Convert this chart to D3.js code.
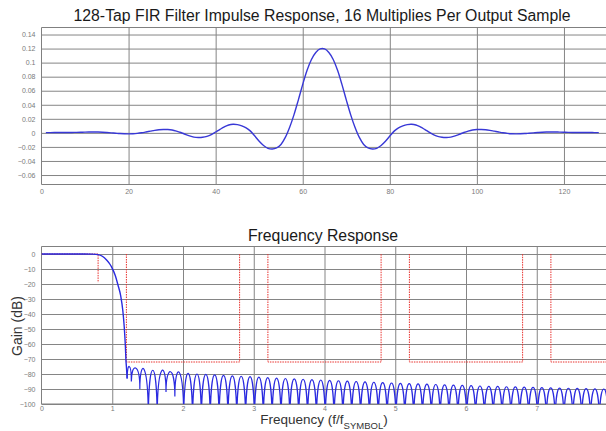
<!DOCTYPE html>
<html>
<head>
<meta charset="utf-8">
<script src="https://cdn.jsdelivr.net/npm/d3@7"></script>
<style>
  body { margin: 0; background: #fff; }
  svg { display: block; font-family: "Liberation Sans", Arial, sans-serif; }
  .grid line { stroke: #858585; stroke-width: 1; }
  .grid path { display: none; }
  .tick-lbl text { fill: #7a7a7a; font-size: 7px; }
  .tick-lbl path, .tick-lbl line { display: none; }
</style>
</head>
<body>
<div id="chart"></div>
<script>
// impulse response, tap 1..128
var impulseTaps = [
  0.0004, 0.0004, 0.0005, 0.0005, 0.0005, 0.0005, 0.0006, 0.0007, 0.0009, 0.0011,
  0.0012, 0.0013, 0.0012, 0.0009, 0.0005, 0.0000, -0.0005, -0.0010, -0.0013, -0.0014,
  -0.0012, -0.0007, 0.0001, 0.0012, 0.0024, 0.0036, 0.0045, 0.0048, 0.0047, 0.0040,
  0.0025, 0.0005, -0.0020, -0.0043, -0.0060, -0.0066, -0.0063, -0.0050, -0.0025, 0.0012,
  0.0050, 0.0085, 0.0112, 0.0122, 0.0117, 0.0100, 0.0072, 0.0025, -0.0045, -0.0120,
  -0.0180, -0.0220, -0.0230, -0.0215, -0.0165, -0.0065, 0.0080, 0.0260, 0.0470, 0.0690,
  0.0890, 0.1045, 0.1145, 0.1195,
  0.1195, 0.1145, 0.1045, 0.0890, 0.0690, 0.0470, 0.0260, 0.0080, -0.0065, -0.0165,
  -0.0215, -0.0230, -0.0220, -0.0180, -0.0120, -0.0045, 0.0025, 0.0072, 0.0100, 0.0117,
  0.0122, 0.0112, 0.0085, 0.0050, 0.0012, -0.0025, -0.0050, -0.0063, -0.0066, -0.0060,
  -0.0043, -0.0020, 0.0005, 0.0025, 0.0040, 0.0047, 0.0048, 0.0045, 0.0036, 0.0024,
  0.0012, 0.0001, -0.0007, -0.0012, -0.0014, -0.0013, -0.0010, -0.0005, 0.0000, 0.0005,
  0.0009, 0.0012, 0.0013, 0.0012, 0.0011, 0.0009, 0.0007, 0.0006, 0.0005, 0.0005,
  0.0005, 0.0005, 0.0004, 0.0004
]

// passband + transition band
var passFreq = [0, 0.3, 0.6, 0.72, 0.8, 0.86, 0.92, 0.97, 1.0, 1.04, 1.08, 1.12, 1.15, 1.17, 1.185, 1.195, 1.2, 1.21]
var passGain = [0, 0, 0, -0.1, -0.4, -1.5, -4, -7, -9.6, -14, -20.5, -28, -38, -49, -61, -72, -75, -83]

// stopband sidelobes: null frequencies, depth at each null, peak of each lobe
var nullFreq = [1.21, 1.27, 1.39, 1.51, 1.635, 1.76, 1.885, 2.01, 2.135, 2.26,
  2.385, 2.51, 2.635, 2.76, 2.885, 3.01, 3.135, 3.26, 3.385, 3.51,
  3.635, 3.76, 3.885, 4.01, 4.135, 4.26, 4.385, 4.51, 4.635, 4.76,
  4.885, 5.01, 5.135, 5.26, 5.385, 5.51, 5.635, 5.76, 5.885, 6.01,
  6.135, 6.26, 6.385, 6.51, 6.635, 6.76, 6.885, 7.01, 7.135, 7.26,
  7.385, 7.51, 7.635, 7.76, 7.885, 8.01]
var nullDepth = [-83, -85, -90, -112, -112, -92, -95, -112, -115, -115,
  -115, -115, -115, -115, -115, -115, -115, -115, -115, -115,
  -115, -115, -115, -115, -115, -115, -115, -115, -115, -115,
  -115, -115, -115, -115, -115, -115, -115, -115, -115, -115,
  -115, -115, -115, -115, -115, -115, -115, -115, -115, -115,
  -115, -115, -115, -115, -115, -115]
var lobePeak = [-75, -76, -77, -77.5, -78, -78.5, -79,
  -79.5, -80, -80.3, -80.6, -80.9, -81.2, -81.5, -81.8,
  -82.1, -82.4, -82.7, -83, -83.3, -83.5, -83.8, -84,
  -84.3, -84.5, -84.8, -85, -85.3, -85.5, -85.8, -86,
  -86.2, -86.4, -86.6, -86.8, -87, -87.2, -87.4, -87.6,
  -87.8, -88, -88.2, -88.3, -88.5, -88.6, -88.8, -88.9,
  -89.1, -89.2, -89.4, -89.5, -89.6, -89.8, -89.9, -90]

// spec mask
var passEdge = 0.8
var passLimit = -19
var stopStart = [1.2, 3.2, 5.2, 7.2]
var stopEnd = [2.8, 4.8, 6.8, 8]
var stopLevel = -72

// ticks
var tapTicks = [0, 20, 40, 60, 80, 100, 120]
var ampTicks = [-0.06, -0.04, -0.02, 0, 0.02, 0.04, 0.06, 0.08, 0.1, 0.12, 0.14]
var freqTicks = [0, 1, 2, 3, 4, 5, 6, 7]
var gainTicks = [0, -10, -20, -30, -40, -50, -60, -70, -80, -90, -100]

var width = 606, height = 431
var left = 41.5, right = 607.5

var svg = d3.select("#chart")
  .append("svg")
  .attr("width", width)
  .attr("height", height)

svg.append("rect").attr("width", width).attr("height", height).attr("fill", "#fff")

// ---------- top: impulse response ----------
var top1 = 27.5, bot1 = 184.5
var xTap = d3.scaleLinear().domain([0, 130]).range([left, right])
var yAmp = d3.scaleLinear().domain([-0.0735, 0.15]).range([bot1, top1])

svg.append("g")
  .attr("class", "grid")
  .attr("transform", `translate(0,${bot1})`)
  .call(d3.axisBottom(xTap).tickValues(tapTicks.slice(1)).tickSize(-(bot1 - top1)).tickFormat(""))

svg.append("g")
  .attr("class", "grid")
  .attr("transform", `translate(${left},0)`)
  .call(d3.axisLeft(yAmp).tickValues(ampTicks).tickSize(-(right - left)).tickFormat(""))

svg.append("path")
  .attr("d", `M${right},${top1}H${left}V${bot1}H${right}`)
  .attr("fill", "none")
  .attr("stroke", "#808080")

svg.append("g")
  .attr("class", "tick-lbl")
  .attr("transform", `translate(0,${bot1 + 2})`)
  .call(d3.axisBottom(xTap).tickValues(tapTicks).tickSize(0).tickFormat(d3.format("d")))

svg.append("g")
  .attr("class", "tick-lbl")
  .attr("transform", `translate(${left - 3},0)`)
  .call(d3.axisLeft(yAmp).tickValues(ampTicks).tickSize(0).tickFormat(d => d === 0 ? "0" : d3.format("")(+d.toFixed(2))))

var impLine = d3.line()
  .x((d, i) => xTap(i + 1))
  .y(d => yAmp(d))
  .curve(d3.curveCatmullRom)

svg.append("path")
  .datum(impulseTaps)
  .attr("d", impLine)
  .attr("fill", "none")
  .attr("stroke", "#3838d6")
  .attr("stroke-width", 1.4)

svg.append("text")
  .attr("x", 322)
  .attr("y", 20.5)
  .attr("text-anchor", "middle")
  .style("font-size", "15.8px")
  .style("fill", "#1a1a1a")
  .text("128-Tap FIR Filter Impulse Response, 16 Multiplies Per Output Sample")

// ---------- bottom: frequency response ----------
var top2 = 246.5, bot2 = 404
var xFreq = d3.scaleLinear().domain([0, 8]).range([left, right])
var yGain = d3.scaleLinear().domain([-100, 5]).range([bot2, top2])

svg.append("clipPath").attr("id", "clip2")
  .append("rect")
  .attr("x", left).attr("y", top2)
  .attr("width", right - left).attr("height", bot2 - top2)

svg.append("g")
  .attr("class", "grid")
  .attr("transform", `translate(0,${bot2})`)
  .call(d3.axisBottom(xFreq).tickValues(freqTicks.slice(1)).tickSize(-(bot2 - top2)).tickFormat(""))

svg.append("g")
  .attr("class", "grid")
  .attr("transform", `translate(${left},0)`)
  .call(d3.axisLeft(yGain).tickValues(gainTicks).tickSize(-(right - left)).tickFormat(""))

svg.append("path")
  .attr("d", `M${right},${top2}H${left}V${bot2}H${right}`)
  .attr("fill", "none")
  .attr("stroke", "#808080")

svg.append("g")
  .attr("class", "tick-lbl")
  .attr("transform", `translate(0,${bot2 - 0.5})`)
  .call(d3.axisBottom(xFreq).tickValues(freqTicks).tickSize(0).tickFormat(d3.format("d")))

svg.append("g")
  .attr("class", "tick-lbl")
  .attr("transform", `translate(${left - 3},0)`)
  .call(d3.axisLeft(yGain).tickValues(gainTicks).tickSize(0).tickFormat(d3.format("d")))

var plot2 = svg.append("g").attr("clip-path", "url(#clip2)")

// mask (red dotted)
var maskLine = d3.line().x(d => xFreq(d[0])).y(d => yGain(d[1]))
plot2.append("path")
  .attr("d", maskLine([[0, 0], [passEdge, 0], [passEdge, passLimit]]))
  .attr("fill", "none")
  .attr("stroke", "#e8322e")
  .attr("stroke-width", 1)
  .attr("stroke-dasharray", "1.5,1")

stopStart.forEach(function(s, i) {
  plot2.append("path")
    .attr("d", maskLine([[s, 0], [s, stopLevel], [stopEnd[i], stopLevel], [stopEnd[i], 0]]))
    .attr("fill", "none")
    .attr("stroke", "#e8322e")
    .attr("stroke-width", 1)
    .attr("stroke-dasharray", "1.5,1")
})

// passband / transition
var passLine = d3.line()
  .x((d, i) => xFreq(passFreq[i]))
  .y(d => yGain(d))
  .curve(d3.curveMonotoneX)

var blue = "#2a2ae0"
plot2.append("path")
  .datum(passGain)
  .attr("d", passLine)
  .attr("fill", "none")
  .attr("stroke", blue)
  .attr("stroke-width", 1.4)

// sidelobes: one arch per lobe between consecutive nulls
var lobes = d3.path()
lobePeak.forEach(function(p, i) {
  var x0 = xFreq(nullFreq[i]), x1 = xFreq(nullFreq[i + 1])
  var y0 = yGain(nullDepth[i]), y1 = yGain(nullDepth[i + 1])
  var yp = yGain(p)
  var c = (8 * yp - y0 - y1) / 6
  lobes.moveTo(x0, y0)
  lobes.bezierCurveTo(x0, c, x1, c, x1, y1)
})

plot2.append("path")
  .attr("d", lobes.toString())
  .attr("fill", "none")
  .attr("stroke", blue)
  .attr("stroke-width", 1.2)

svg.append("text")
  .attr("x", 323)
  .attr("y", 240.5)
  .attr("text-anchor", "middle")
  .style("font-size", "15.8px")
  .style("fill", "#1a1a1a")
  .text("Frequency Response")

svg.append("text")
  .attr("transform", "translate(21.5,326) rotate(-90)")
  .attr("text-anchor", "middle")
  .style("font-size", "14px")
  .style("fill", "#333")
  .text("Gain (dB)")

var xl = svg.append("text")
  .attr("x", 324)
  .attr("y", 424)
  .attr("text-anchor", "middle")
  .style("font-size", "13.5px")
  .style("fill", "#333")
xl.append("tspan").text("Frequency (f/f")
xl.append("tspan").attr("dy", 4.5).style("font-size", "9.5px").text("SYMBOL")
xl.append("tspan").attr("dy", -4.5).text(")")
</script>
</body>
</html>
